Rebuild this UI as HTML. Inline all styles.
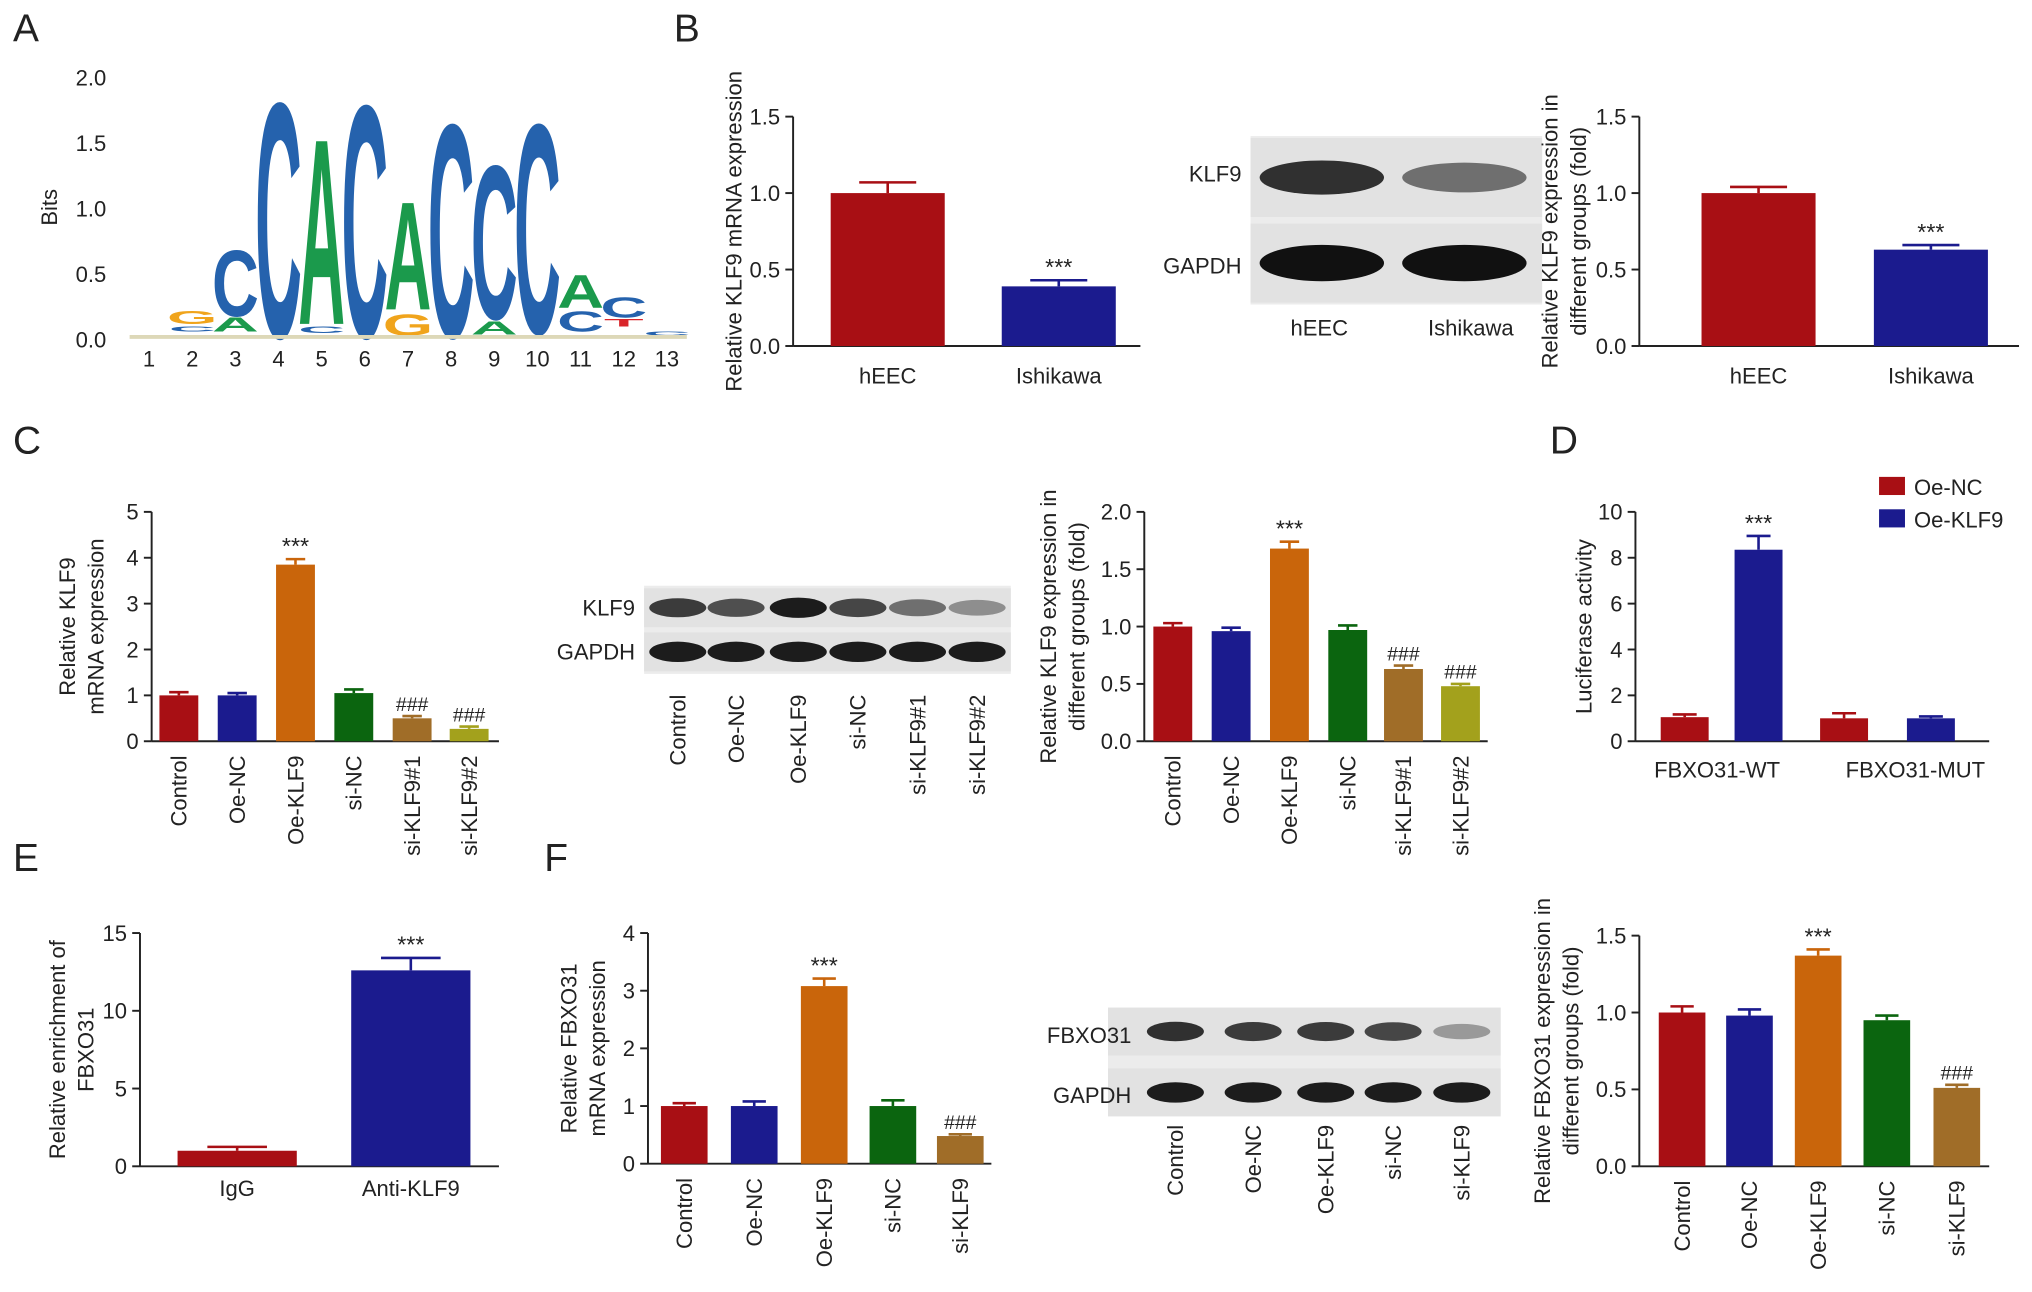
<!DOCTYPE html>
<html><head><meta charset="utf-8"><style>
html,body{margin:0;padding:0;background:#fff}
svg{display:block}
text{font-family:"Liberation Sans",Arial,sans-serif;fill:#222}
</style></head><body>
<svg id="fig" width="2032" height="1292" viewBox="0 0 1568 997" xmlns="http://www.w3.org/2000/svg">
<g id="root"></g>
</svg>
<script>
const NS='http://www.w3.org/2000/svg';
const root=document.getElementById('root');
function el(tag,attrs,parent,txt){const e=document.createElementNS(NS,tag);for(const k in attrs)e.setAttribute(k,attrs[k]);if(txt!==undefined)e.textContent=txt;(parent||root).appendChild(e);return e;}
const RED='#a80f14',BLUE='#1b1b8e',ORANGE='#c9650b',GREEN='#0b650f',BROWN='#a06d28',OLIVE='#a3a11c';

// ---- data ----
const b1Cats=['hEEC','Ishikawa'];const b1Vals=[1.0,0.39];const b1Err=[0.07,0.04];
const b2Cats=['hEEC','Ishikawa'];const b2Vals=[1.0,0.63];const b2Err=[0.04,0.03];
const c1Cats=['Control','Oe-NC','Oe-KLF9','si-NC','si-KLF9#1','si-KLF9#2'];const c1Vals=[1.0,1.0,3.85,1.05,0.5,0.27];const c1Err=[0.07,0.05,0.12,0.08,0.05,0.05];
const c2Vals=[1.0,0.96,1.68,0.97,0.63,0.48];const c2Err=[0.03,0.03,0.06,0.04,0.03,0.02];
const dVals=[1.05,8.35,1.0,1.0];const dErr=[0.12,0.6,0.22,0.08];
const eCats=['IgG','Anti-KLF9'];const eVals=[1.0,12.6];const eErr=[0.25,0.8];
const fCats=['Control','Oe-NC','Oe-KLF9','si-NC','si-KLF9'];const f1Vals=[1.0,1.0,3.08,1.0,0.48];const f1Err=[0.05,0.08,0.13,0.1,0.03];
const f2Vals=[1.0,0.98,1.37,0.95,0.51];const f2Err=[0.04,0.04,0.04,0.03,0.02];

function axis(o){
  const g=el('g',{});
  const ys=v=>o.yb-(v-0)/(o.ymax)*(o.yb-o.yt);
  el('line',{x1:o.x,y1:o.yt,x2:o.x,y2:o.yb,stroke:'#222','stroke-width':1.5},g);
  el('line',{x1:o.x,y1:o.yb,x2:o.xe,y2:o.yb,stroke:'#222','stroke-width':1.5},g);
  o.ticks.forEach(t=>{const y=ys(t);el('line',{x1:o.x-6,y1:y,x2:o.x,y2:y,stroke:'#222','stroke-width':1.5},g);
    const tl=el('text',{x:o.x-10,y:y+6,'text-anchor':'end','font-size':17},g,o.fmt?t.toFixed(1):String(t));});
  o.title.forEach((ln,i)=>{const tx=o.tx+i*22;el('text',{x:0,y:0,transform:`translate(${tx},${(o.yt+o.yb)/2+(o.tyo||0)}) rotate(-90)`,'text-anchor':'middle','font-size':17,},g,ln);});
  return {g,ys};
}
function bars(o,ax,vals,errs,xs,w,colors,ann){
  vals.forEach((v,i)=>{const y=ax.ys(v),cx=xs[i],c=colors[i];
    const r=el('rect',{x:cx-w/2,y:y,width:w,height:ax.ys(0)-y,fill:c},ax.g);
    const ye=ax.ys(v+errs[i]);
    el('line',{x1:cx,y1:y,x2:cx,y2:ye,stroke:c,'stroke-width':2},ax.g);
    el('line',{x1:cx-w*0.25,y1:ye,x2:cx+w*0.25,y2:ye,stroke:c,'stroke-width':2},ax.g);
    if(ann&&ann[i]){const t=el('text',{x:cx,y:ye-4,'text-anchor':'middle','font-size':ann[i]=='***'?18:15},ax.g,ann[i]);}
  });
}
function xlabels(g,cats,xs,y,rot){cats.forEach((c,i)=>{
  const t=rot?el('text',{x:0,y:0,transform:`translate(${xs[i]+6},${y}) rotate(-90)`,'text-anchor':'end','font-size':17},g,c):el('text',{x:xs[i],y:y,'text-anchor':'middle','font-size':17},g,c);
  });}
function letter(t,text,x,y,s,name){const e=el('text',{x:x,y:y,'font-size':s||30,},root,text);}

// panel letters
letter(0,'A',10,32,30,'panel-label-a');letter(0,'B',520,32,30,'panel-label-b');letter(0,'C',10,350,30,'panel-label-c');
letter(0,'D',1196,350,30,'panel-label-d');letter(0,'E',10,672,30,'panel-label-e');letter(0,'F',420,672,30,'panel-label-f');

// ---- A logo ----
(function(){
  const g=el('g',{});
  const ys=v=>262-v/2*202;
  [0,0.5,1.0,1.5,2.0].forEach(t=>el('text',{x:82,y:ys(t)+6,'text-anchor':'end','font-size':17},g,t.toFixed(1)));
  el('text',{x:0,y:0,transform:'translate(44,160) rotate(-90)','text-anchor':'middle','font-size':17},g,'Bits');
  const px=i=>115+(i-1)*33.3;
  for(let i=1;i<=13;i++)el('text',{x:px(i),y:283,'text-anchor':'middle','font-size':17},g,String(i));
  const col={C:'#2562ad',A:'#1b9a4c',G:'#f0a41c',T:'#d9252a'};
  const L=[[2,'G',0.12,0.22],[2,'C',0.06,0.1],[3,'A',0.06,0.17],[3,'C',0.18,0.7],[4,'C',0.02,1.87],[5,'C',0.05,0.1],[5,'A',0.12,1.58],[6,'C',0.02,1.85],[7,'G',0.03,0.2],[7,'A',0.23,1.08],[8,'C',0.02,1.7],[9,'A',0.04,0.14],[9,'C',0.16,1.37],[10,'C',0.05,1.7],[11,'C',0.06,0.22],[11,'A',0.24,0.5],[12,'T',0.1,0.16],[12,'C',0.17,0.33],[13,'C',0.03,0.06]];
  L.forEach(([p,ch,b,t])=>{const yb=ys(b),h=ys(b)-ys(t);const sx=36/7.2,sy=h/7.2;
    el('text',{x:0,y:0,transform:`translate(${px(p)},${yb}) scale(${sx},${sy})`,'text-anchor':'middle','font-size':10,'font-weight':'bold',style:'fill:'+col[ch]},g,ch);});
  el('line',{x1:100,y1:260,x2:530,y2:260,stroke:'#ddd8b8','stroke-width':3},g);
})();

// ---- blot helper ----
function blot(name,x,y,w,h,rows,lanes,inten){
  const g=el('g',{});
  el('rect',{x:x,y:y,width:w,height:h,fill:'#ececec'},g);
  rows.forEach((ry,ri)=>{el('rect',{x:x,y:ry-h/rows.length/2+2,width:w,height:h/rows.length-4,fill:'#e2e2e2'},g);
    lanes.forEach((lx,li)=>{const a=inten[ri][li];el('ellipse',{cx:lx,cy:ry,rx:(lanes.length>2?22:48),ry:(lanes.length>2?8:14)*(0.6+0.4*a),fill:'#111','fill-opacity':a},g);});});
  return g;
}

// ---- B1 ----
(function(){const ax=axis({name:'chart-b-mrna',x:612,yt:90,yb:267,xe:880,ymax:1.5,ticks:[0,0.5,1.0,1.5],fmt:1,title:['Relative KLF9 mRNA expression'],tx:572,tyo:0});
  const xs=[685,817];bars(0,ax,b1Vals,b1Err,xs,88,[RED,BLUE],['','***']);xlabels(ax.g,b1Cats,xs,296,false);})();
blot('blot-b',965,105,225,130,[137,203],[1020,1130],[[0.85,0.55],[1,1]]);
el('text',{x:958,y:140,'text-anchor':'end','font-size':17,},root,'KLF9');
el('text',{x:958,y:211,'text-anchor':'end','font-size':17,},root,'GAPDH');
el('text',{x:1018,y:259,'text-anchor':'middle','font-size':17,},root,'hEEC');
el('text',{x:1135,y:259,'text-anchor':'middle','font-size':17,},root,'Ishikawa');
(function(){const ax=axis({name:'chart-b-protein',x:1265,yt:90,yb:267,xe:1558,ymax:1.5,ticks:[0,0.5,1.0,1.5],fmt:1,title:['Relative KLF9 expression in','different groups (fold)'],tx:1202,tyo:0});
  const xs=[1357,1490];bars(0,ax,b2Vals,b2Err,xs,88,[RED,BLUE],['','***']);xlabels(ax.g,b2Cats,xs,296,false);})();

// ---- C ----
const C6=[RED,BLUE,ORANGE,GREEN,BROWN,OLIVE];
(function(){const ax=axis({name:'chart-c-mrna',x:117,yt:395,yb:572,xe:385,ymax:5,ticks:[0,1,2,3,4,5],title:['Relative KLF9','mRNA expression'],tx:58,tyo:0});
  const xs=[138,183,228,273,318,362];bars(0,ax,c1Vals,c1Err,xs,30,C6,['','','***','','###','###']);xlabels(ax.g,c1Cats,xs,583,true);})();
blot('blot-c',497,452,283,68,[469,503],[523,568,616,662,708,754],[[0.8,0.7,0.95,0.75,0.55,0.4],[0.95,0.95,0.95,0.95,0.95,0.95]]);
el('text',{x:490,y:475,'text-anchor':'end','font-size':17,},root,'KLF9');
el('text',{x:490,y:509,'text-anchor':'end','font-size':17,},root,'GAPDH');
(function(){const g=el('g',{});xlabels(g,c1Cats,[523,568,616,662,708,754],536,true);})();
(function(){const ax=axis({name:'chart-c-protein',x:883,yt:395,yb:572,xe:1148,ymax:2,ticks:[0,0.5,1.0,1.5,2.0],fmt:1,title:['Relative KLF9 expression in','different groups (fold)'],tx:815,tyo:0});
  const xs=[905,950,995,1040,1083,1127];bars(0,ax,c2Vals,c2Err,xs,30,C6,['','','***','','###','###']);xlabels(ax.g,c1Cats,xs,583,true);})();

// ---- D ----
(function(){const ax=axis({name:'chart-d-luciferase',x:1262,yt:395,yb:572,xe:1535,ymax:10,ticks:[0,2,4,6,8,10],title:['Luciferase activity'],tx:1228,tyo:0});
  const xs=[1300,1357,1423,1490];bars(0,ax,dVals,dErr,xs,37,[RED,BLUE,RED,BLUE],['','***','','']);
  xlabels(ax.g,['FBXO31-WT','FBXO31-MUT'],[1325,1478],600,false);
  const lg=el('g',{});
  el('rect',{x:1450,y:368,width:20,height:14,fill:RED},lg);el('text',{x:1477,y:382,'font-size':17},lg,'Oe-NC');
  el('rect',{x:1450,y:393,width:20,height:14,fill:BLUE},lg);el('text',{x:1477,y:407,'font-size':17},lg,'Oe-KLF9');})();

// ---- E ----
(function(){const ax=axis({name:'chart-e-enrichment',x:108,yt:720,yb:900,xe:385,ymax:15,ticks:[0,5,10,15],title:['Relative enrichment of','FBXO31'],tx:50,tyo:0});
  const xs=[183,317];bars(0,ax,eVals,eErr,xs,92,[RED,BLUE],['','***']);xlabels(ax.g,eCats,xs,923,false);})();

// ---- F ----
const C5=[RED,BLUE,ORANGE,GREEN,BROWN];
(function(){const ax=axis({name:'chart-f-mrna',x:500,yt:720,yb:898,xe:765,ymax:4,ticks:[0,1,2,3,4],title:['Relative FBXO31','mRNA expression'],tx:445,tyo:0});
  const xs=[528,582,636,689,741];bars(0,ax,f1Vals,f1Err,xs,36,C5,['','','***','','###']);xlabels(ax.g,fCats,xs,909,true);})();
blot('blot-f',855,778,303,82,[796,843],[907,967,1023,1075,1128],[[0.85,0.8,0.8,0.75,0.35],[0.95,0.95,0.95,0.95,0.95]]);
el('text',{x:873,y:805,'text-anchor':'end','font-size':17,},root,'FBXO31');
el('text',{x:873,y:851,'text-anchor':'end','font-size':17,},root,'GAPDH');
(function(){const g=el('g',{});xlabels(g,fCats,[907,967,1023,1075,1128],868,true);})();
(function(){const ax=axis({name:'chart-f-protein',x:1265,yt:722,yb:900,xe:1535,ymax:1.5,ticks:[0,0.5,1.0,1.5],fmt:1,title:['Relative FBXO31 expression in','different groups (fold)'],tx:1196,tyo:0});
  const xs=[1298,1350,1403,1456,1510];bars(0,ax,f2Vals,f2Err,xs,36,C5,['','','***','','###']);xlabels(ax.g,fCats,xs,911,true);})();
</script>
</body></html>
